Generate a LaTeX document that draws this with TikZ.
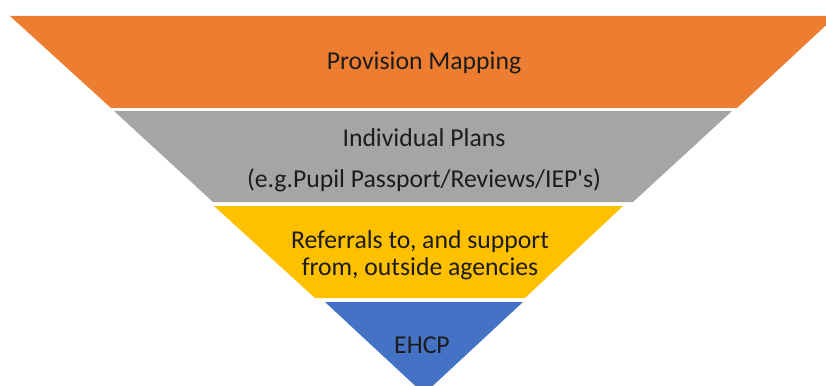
\documentclass[tikz,border=0pt]{standalone}
\usepackage{fontspec}
\setmainfont{Carlito}
\definecolor{mapOrange}{HTML}{ED7D31}
\definecolor{planGray}{HTML}{A5A5A5}
\definecolor{referGold}{HTML}{FFC000}
\definecolor{ehcpBlue}{HTML}{4472C4}
\definecolor{labelInk}{HTML}{1C1C1C}
\begin{document}
\begin{tikzpicture}[x=1pt,y=-1pt]

\tikzstyle{layer}=[text=labelInk, align=center, font=\fontsize{25.7}{27}\selectfont]
\tikzstyle{twolines}=[layer, font=\fontsize{25.7}{41}\selectfont]

\useasboundingbox (0,0) rectangle (826,385);
\clip (0,0) rectangle (826,385);

\fill[mapOrange] (10,16) -- (836,16) -- (737,108) -- (111,108) -- cycle;
\fill[planGray] (114,111) -- (732,111) -- (633,202) -- (213,202) -- cycle;
\fill[referGold] (214,206) -- (623,206) -- (525,298) -- (315,298) -- cycle;
\fill[ehcpBlue] (325,302) -- (523,302) -- (424,394) -- cycle;

\node[layer] (mapping) at (424,63) {Provision Mapping};
\node[twolines] (plans) at (424,160) {Individual Plans\\(e.g.Pupil Passport/Reviews/IEP\textquotesingle s)};
\node[layer] (referrals) at (420,255) {Referrals to, and support\\from, outside agencies};
\node[layer] (ehcp) at (422,345) {EHCP};
\end{tikzpicture}
\end{document}
